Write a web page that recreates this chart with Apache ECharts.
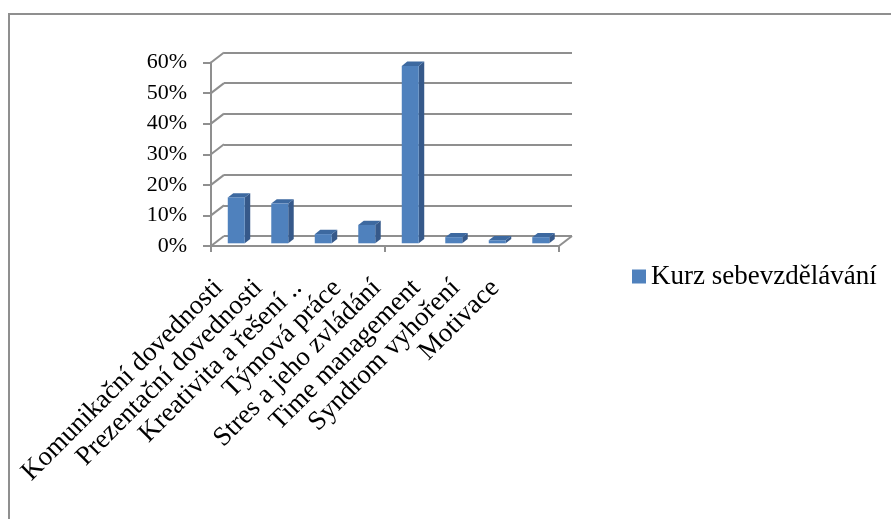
<!DOCTYPE html>
<html>
<head>
<meta charset="utf-8">
<script src="https://cdn.jsdelivr.net/npm/echarts@6/dist/echarts.min.js"></script>
<style>
  html, body { margin: 0; padding: 0; background: #fff; }
  #chart { width: 891px; height: 519px; }
</style>
</head>
<body>
<div id="chart"></div>
<script>
// Survey results: share of respondents choosing each self-development course
const categories = [
  'Komunikační dovednosti',
  'Prezentační dovednosti',
  'Kreativita a řešení ..',
  'Týmová práce',
  'Stres a jeho zvládání',
  'Time management',
  'Syndrom vyhoření',
  'Motivace'
];
const shares = [0.15, 0.13, 0.03, 0.06, 0.58, 0.02, 0.01, 0.02];
const seriesName = 'Kurz sebevzdělávání';
const wallTicks = [0, 0.1, 0.2, 0.3, 0.4, 0.5, 0.6];

// pseudo-3D look: wall depth and column depth (pixels)
const WALL_DX = 13, WALL_DY = -10;
const BAR_DX = 3.5, BAR_DY = -2.7;
const SIDE_DX = 5.5, SIDE_DY = -4.3;
const GRID_COLOR = '#8f8f8f';
const FONT = '"Liberation Serif", "Times New Roman", serif';

const chart = echarts.init(document.getElementById('chart'), null, { renderer: 'canvas' });

const frontGrid = { left: 211, top: 62.5, width: 348, height: 183.5 };
const wallGrid = { left: 211 + WALL_DX, top: 62.5 + WALL_DY, width: 348, height: 183.5 };
const labelGrid = { left: 199, top: 62.5, width: 316, height: 183.5 };

const option = {
  animation: false,
  backgroundColor: '#ffffff',
  graphic: [{
    type: 'rect',
    shape: { x: 9, y: 14, width: 1000, height: 1000 },
    style: { fill: 'none', stroke: GRID_COLOR, lineWidth: 2 },
    silent: true
  }],
  legend: {
    data: [seriesName],
    left: 627,
    top: 258,
    icon: 'rect',
    itemWidth: 14,
    itemHeight: 14,
    textStyle: { fontFamily: FONT, fontSize: 27, color: '#000' }
  },
  grid: [
    Object.assign({}, frontGrid),
    Object.assign({}, wallGrid),
    Object.assign({}, labelGrid)
  ],
  xAxis: [
    {
      gridIndex: 0, type: 'category', data: categories,
      axisLine: { show: true, lineStyle: { color: GRID_COLOR, width: 2 } },
      axisTick: { show: true, length: 6, lineStyle: { color: GRID_COLOR, width: 2 } },
      axisLabel: { show: false }
    },
    {
      gridIndex: 1, type: 'category', data: categories, show: false
    },
    {
      gridIndex: 2, type: 'category', data: categories,
      axisLine: { show: false }, axisTick: { show: false },
      axisLabel: {
        show: true, rotate: 45, margin: 38, interval: 0,
        fontFamily: FONT, fontSize: 27, color: '#000'
      }
    }
  ],
  yAxis: [
    {
      gridIndex: 0, type: 'value', min: 0, max: 0.6, interval: 0.1,
      axisLine: { show: true, lineStyle: { color: GRID_COLOR, width: 2 } },
      axisTick: { show: true, length: 8, lineStyle: { color: GRID_COLOR, width: 2 } },
      splitLine: { show: false },
      axisLabel: {
        margin: 24, fontFamily: FONT, fontSize: 22, color: '#000',
        formatter: v => Math.round(v * 100) + '%'
      }
    },
    {
      gridIndex: 1, type: 'value', min: 0, max: 0.6, interval: 0.1,
      axisLine: { show: false }, axisTick: { show: false }, axisLabel: { show: false },
      splitLine: { show: true, lineStyle: { color: GRID_COLOR, width: 2 } }
    },
    {
      gridIndex: 2, type: 'value', min: 0, max: 0.6, show: false
    }
  ],
  series: [
    {
      // diagonal edges joining the front axis to the back wall
      type: 'custom',
      name: 'wall',
      xAxisIndex: 0, yAxisIndex: 0,
      silent: true,
      z: 1,
      data: wallTicks.map(v => [0, v]),
      renderItem: (params, api) => {
        const v = api.value(1);
        const c = api.coord([0, v]);
        const half = api.size([1, 0])[0] / 2;
        const x0 = c[0] - half;
        const style = { stroke: GRID_COLOR, lineWidth: 2 };
        const children = [{
          type: 'line',
          shape: { x1: x0, y1: c[1], x2: x0 + WALL_DX, y2: c[1] + WALL_DY },
          style
        }];
        if (v === 0) {
          const r = api.coord([categories.length - 1, 0]);
          const x1 = r[0] + half;
          children.push({
            type: 'line',
            shape: { x1: x1, y1: r[1], x2: x1 + WALL_DX, y2: r[1] + WALL_DY },
            style
          });
        }
        return { type: 'group', children };
      }
    },
    {
      // 3D-style columns: front face, side face and top face
      type: 'custom',
      name: seriesName,
      xAxisIndex: 0, yAxisIndex: 0,
      itemStyle: { color: '#4F81BD' },
      z: 3,
      data: shares.map((v, i) => [i, v]),
      encode: { x: 0, y: 1 },
      renderItem: (params, api) => {
        const i = api.value(0);
        const v = api.value(1);
        const base = api.coord([i, 0]);
        const top = api.coord([i, v]);
        const bw = api.size([1, 0])[0] * 0.39;
        const L = base[0] - bw / 2 + BAR_DX;
        const R = L + bw;
        const yB = base[1] + BAR_DY;
        const yT = top[1] + BAR_DY;
        return {
          type: 'group',
          children: [
            {
              type: 'polygon',
              shape: { points: [[R, yT], [R + SIDE_DX, yT + SIDE_DY], [R + SIDE_DX, yB + SIDE_DY], [R, yB]] },
              style: { fill: '#36598A' }
            },
            {
              type: 'polygon',
              shape: { points: [[L, yT], [L + SIDE_DX, yT + SIDE_DY], [R + SIDE_DX, yT + SIDE_DY], [R, yT]] },
              style: { fill: '#3D69A0' }
            },
            {
              type: 'rect',
              shape: { x: L, y: yT, width: bw, height: yB - yT },
              style: { fill: '#4F81BD' }
            }
          ]
        };
      }
    }
  ]
};

chart.setOption(option);
</script>
</body>
</html>
